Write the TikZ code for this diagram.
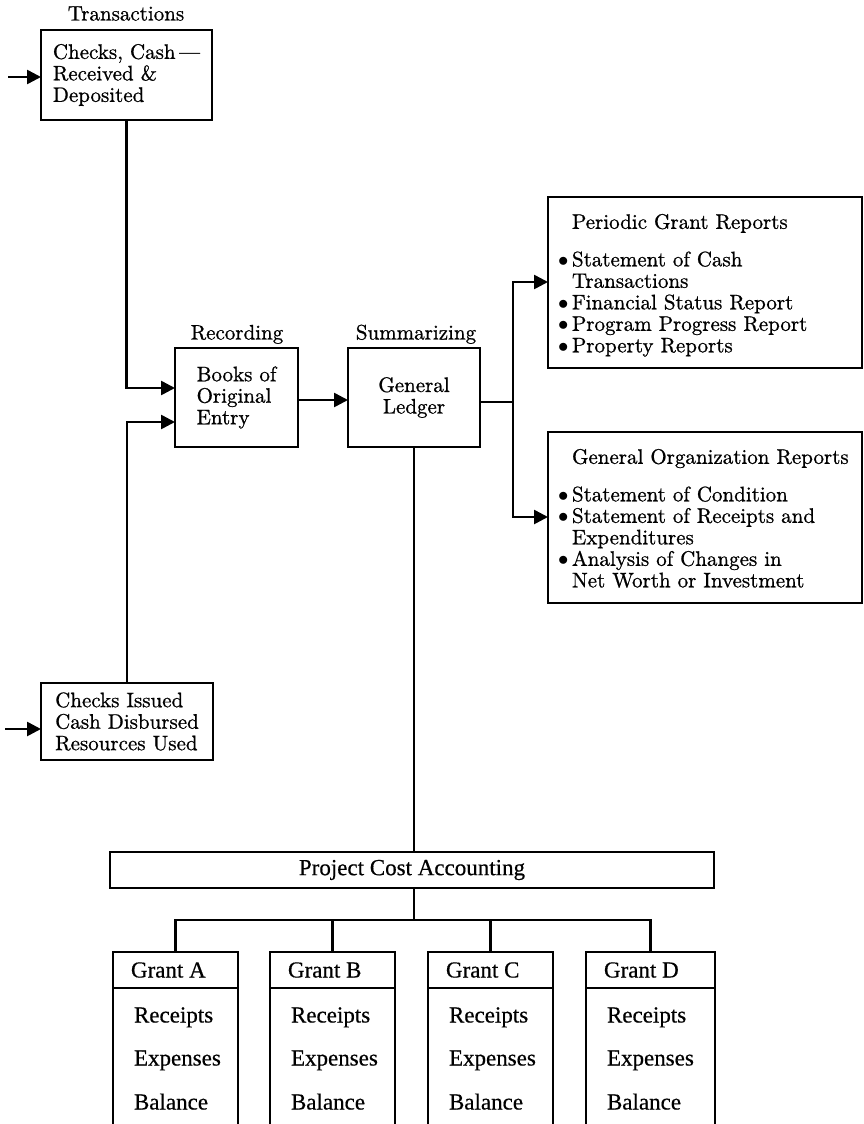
\documentclass[tikz,border=0pt]{standalone}
\usepackage{fontspec}
\setmainfont{lmroman10-regular}[Extension=.otf, FakeBold=0.8]
\newfontfamily\timesfont{Liberation Serif}[FakeBold=0.5]
\usetikzlibrary{arrows.meta,calc}
\begin{document}
\begin{tikzpicture}[x=1pt,y=-1pt,
  line width=2.6pt,
  every node/.style={inner sep=0pt, outer sep=0pt},
  box/.style={draw, line width=2.6pt},
  maintext/.style={font=\fontsize{21}{21.5}\selectfont},
  lowtext/.style={font=\timesfont\fontsize{23}{23}\selectfont},
  arr/.style={-{Triangle[length=14pt,width=14pt]}},
]
\useasboundingbox[fill=white] (0,0) rectangle (864,1124);

% ---------- transactions ----------
\node[maintext, anchor=base] (lblT) at (126,20.5) {Transactions};
\node[box, maintext, minimum width=171pt, minimum height=90pt, align=left]
  (rec) at (126.5,75) {Checks, Cash\,---\\Received \&\\Deposited};
\node[box, maintext, minimum width=172pt, minimum height=77pt, align=left]
  (iss) at (127,721.5) {Checks Issued\\Cash Disbursed\\Resources Used};

% ---------- recording and summarizing ----------
\node[maintext, anchor=base] (lblR) at (237,339.5) {Recording};
\node[box, maintext, minimum width=123pt, minimum height=99pt, align=left]
  (books) at (236.5,397.5) {Books of\\Original\\Entry};
\node[maintext, anchor=base] (lblS) at (416,339.5) {Summarizing};
\node[box, maintext, minimum width=132pt, minimum height=99pt, align=center]
  (gl) at (414,397.5) {General\\Ledger};

% ---------- reports ----------
\node[box, minimum width=314pt, minimum height=171pt] (per) at (705,282.5) {};
\node[maintext, align=left, anchor=north west] (pertext) at (572,214)
  {Periodic Grant Reports\\[16pt]
   \llap{\makebox[14pt][l]{$\bullet$}}Statement of Cash\\
   Transactions\\
   \llap{\makebox[14pt][l]{$\bullet$}}Financial Status Report\\
   \llap{\makebox[14pt][l]{$\bullet$}}Program Progress Report\\
   \llap{\makebox[14pt][l]{$\bullet$}}Property Reports};

\node[box, minimum width=314pt, minimum height=171pt] (gor) at (705,517.5) {};
\node[maintext, align=left, anchor=north west] (gortext) at (572,449)
  {General Organization Reports\\[16pt]
   \llap{\makebox[14pt][l]{$\bullet$}}Statement of Condition\\
   \llap{\makebox[14pt][l]{$\bullet$}}Statement of Receipts and\\
   Expenditures\\
   \llap{\makebox[14pt][l]{$\bullet$}}Analysis of Changes in\\
   Net Worth or Investment};

% ---------- project cost accounting ----------
\node[box, lowtext, minimum width=604pt, minimum height=36pt]
  (pca) at (412,870) {Project Cost Accounting};

\coordinate (bot) at (0,1130);
\foreach \g/\name/\cx/\w in {a/A/175.5/125, b/B/332.5/125, c/C/490.5/125, d/D/650.5/129}{
  \node[box, minimum width=\w pt, minimum height=36pt] (g\g) at (\cx,970) {};
  \draw (g\g.south west) -- (g\g.south west |- bot);
  \draw (g\g.south east) -- (g\g.south east |- bot);
  \node[lowtext, anchor=base west] (g\g lbl) at ($(g\g.west)+(18,7.5)$) {Grant \name};
  \node[lowtext, anchor=base west] (g\g r) at ($(g\g.west)+(21,52.5)$) {Receipts};
  \node[lowtext, anchor=base west] (g\g e) at ($(g\g.west)+(21,95.5)$) {Expenses};
  \node[lowtext, anchor=base west] (g\g b) at ($(g\g.west)+(21,139.5)$) {Balance};
}

% ---------- connectors ----------
\coordinate (inA) at (8,77);
\draw[arr] (inA) -- (inA -| rec.west);
\coordinate (inB) at (5,729);
\draw[arr] (inB) -- (inB -| iss.west);

\coordinate (j1) at (0,388);
\draw[arr] (rec.south) |- (j1 -| books.west);
\coordinate (j2) at (0,422);
\draw[arr] (iss.north) |- (j2 -| books.west);

\coordinate (j3) at (0,400);
\draw[arr] (j3 -| books.east) -- (j3 -| gl.west);

\coordinate (sp) at (513,402);
\coordinate (j4) at (513,282);
\coordinate (j5) at (513,517);
\draw (gl.east |- sp) -- (sp);
\draw[arr] (sp) -- (j4) -- (j4 -| per.west);
\draw[arr] (sp) -- (j5) -- (j5 -| gor.west);

\draw (gl.south) -- (gl.south |- pca.north);
\coordinate (bus) at (0,920);
\draw (pca.south -| gl.south) -- (bus -| gl.south);
\draw (ga.north) |- (bus -| gd.north) -- (gd.north);
\draw (gb.north) -- (gb.north |- bus);
\draw (gc.north) -- (gc.north |- bus);
\end{tikzpicture}
\end{document}
